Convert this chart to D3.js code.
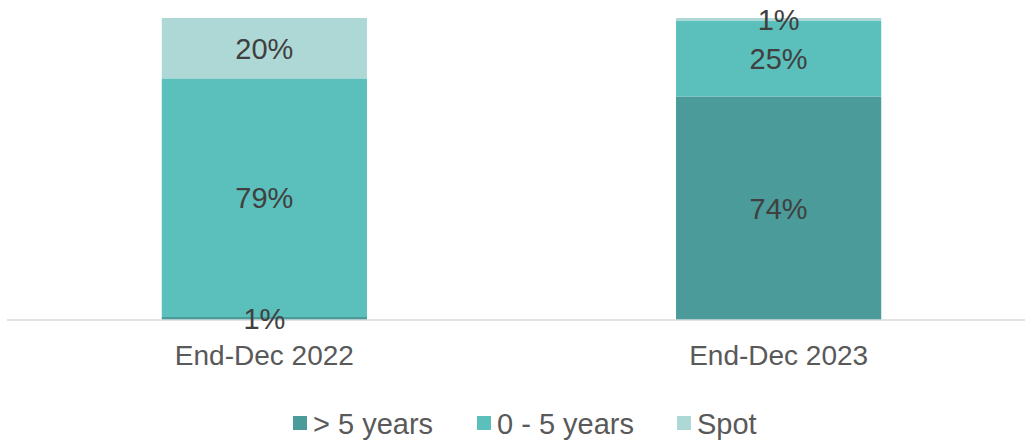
<!DOCTYPE html>
<html>
<head>
<meta charset="utf-8">
<script src="https://cdn.jsdelivr.net/npm/d3@7"></script>
<style>
  html, body { margin: 0; padding: 0; background: #fff; }
  svg { display: block; font-family: "Liberation Sans", Arial, sans-serif; }
</style>
</head>
<body>
<svg id="chart" width="1025" height="441"></svg>
<script>
// Share of holdings by maturity bucket (stacked to 100%)
const categories = ["End-Dec 2022", "End-Dec 2023"];
const seriesNames = ["> 5 years", "0 - 5 years", "Spot"];
const over5 = [1, 74];
const zeroTo5 = [79, 25];
const spot = [20, 1];
const colors = ["#4A9B9A", "#5BBFBB", "#AED8D6"];

const rows = categories.map((c, i) => ({
  cat: c,
  "> 5 years": over5[i],
  "0 - 5 years": zeroTo5[i],
  "Spot": spot[i]
}));

const svg = d3.select("#chart");
const x = d3.scaleBand().domain(categories).range([7.5, 1035.5]).paddingInner(0.601).paddingOuter(0.3);
const y = d3.scaleLinear().domain([0, 100]).range([320, 18]);

const layers = d3.stack().keys(seriesNames)(rows);

const g = svg.append("g");
layers.forEach((layer, li) => {
  g.selectAll(null).data(layer).enter().append("rect")
    .attr("x", d => x(d.data.cat))
    .attr("width", x.bandwidth())
    .attr("y", d => y(d[1]))
    .attr("height", d => y(d[0]) - y(d[1]))
    .attr("fill", colors[li]);
});

// axis baseline
svg.append("line")
  .attr("x1", 7).attr("x2", 1025)
  .attr("y1", 320).attr("y2", 320)
  .attr("stroke", "#D9D9D9").attr("stroke-width", 1.5);

// value labels, centred in each segment
layers.forEach((layer) => {
  layer.forEach(d => {
    const v = d[1] - d[0];
    svg.append("text")
      .attr("x", x(d.data.cat) + x.bandwidth() / 2)
      .attr("y", (y(d[0]) + y(d[1])) / 2)
      .attr("dy", "0.36em")
      .attr("text-anchor", "middle")
      .attr("font-size", 29)
      .attr("fill", "#404040")
      .text(Math.round(v) + "%");
  });
});

// category axis labels
const xAxis = d3.axisBottom(x).tickSize(0).tickPadding(0);
const ax = svg.append("g").attr("transform", "translate(0,365)").call(xAxis);
ax.select(".domain").remove();
ax.selectAll("text")
  .attr("font-size", 28)
  .attr("fill", "#595959")
  .attr("font-family", "Liberation Sans, Arial, sans-serif")
  .attr("dy", "0");

// legend
const legendX = [293, 477, 677];
const leg = svg.append("g");
seriesNames.forEach((name, i) => {
  leg.append("rect")
    .attr("x", legendX[i]).attr("y", 416)
    .attr("width", 14).attr("height", 14)
    .attr("fill", colors[i]);
  leg.append("text")
    .attr("x", legendX[i] + 20).attr("y", 434)
    .attr("font-size", 29)
    .attr("fill", "#595959")
    .text(name);
});
</script>
</body>
</html>
